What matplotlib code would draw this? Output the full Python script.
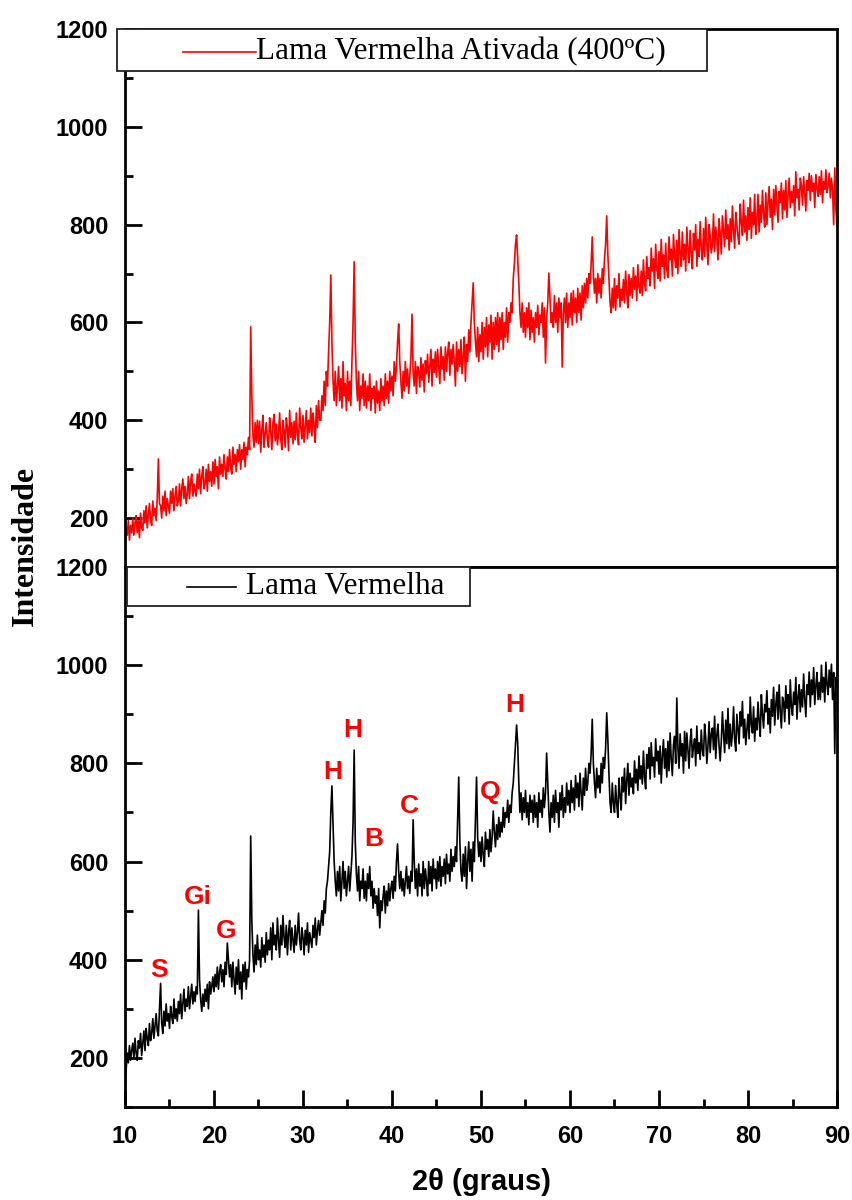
import numpy as np
import matplotlib
matplotlib.use("Agg")
import matplotlib.pyplot as plt
from matplotlib.patches import Rectangle
from matplotlib.lines import Line2D

# ---------------- data ----------------
# Each row holds the intensities read across one degree of 2θ, starting at 10°.
theta_first = 10

lama_vermelha_rows = [
    [120, 175, 210, 190, 225, 195, 215, 230],
    [200, 240, 210, 195, 235, 220, 250, 205],
    [230, 255, 215, 260, 240, 225, 270, 235],
    [250, 280, 240, 265, 290, 255, 245, 300],
    [352, 270, 250, 295, 265, 310, 275, 290],
    [260, 305, 285, 270, 320, 280, 300, 275],
    [315, 290, 330, 280, 310, 340, 295, 320],
    [305, 345, 300, 325, 350, 310, 335, 315],
    [345, 330, 501, 360, 320, 295, 330, 305],
    [340, 315, 350, 300, 355, 330, 345, 365],
    [335, 370, 345, 385, 340, 375, 390, 355],
    [380, 345, 395, 370, 434, 400, 365, 390],
    [345, 395, 360, 330, 385, 350, 400, 340],
    [375, 320, 390, 355, 395, 340, 380, 365],
    [400, 652, 480, 410, 375, 430, 390, 450],
    [400, 420, 385, 445, 405, 430, 395, 455],
    [410, 440, 420, 465, 400, 475, 430, 450],
    [420, 485, 440, 405, 470, 430, 490, 445],
    [425, 470, 410, 455, 480, 420, 465, 440],
    [415, 470, 430, 455, 495, 440, 420, 465],
    [445, 410, 460, 430, 475, 415, 455, 440],
    [425, 470, 445, 485, 430, 460, 480, 450],
    [475, 500, 470, 520, 495, 545, 560, 590],
    [620, 700, 754, 680, 600, 560, 530, 580],
    [540, 590, 520, 560, 600, 545, 580, 530],
    [560, 590, 540, 575, 610, 680, 827, 640],
    [575, 540, 590, 520, 560, 545, 585, 525],
    [560, 520, 575, 545, 590, 530, 560, 505],
    [545, 515, 530, 490, 545, 465, 520, 500],
    [530, 550, 495, 540, 510, 555, 520, 545],
    [560, 525, 570, 540, 600, 636, 580, 545],
    [580, 540, 565, 530, 560, 590, 545, 570],
    [535, 580, 560, 685, 600, 545, 585, 530],
    [595, 550, 575, 530, 600, 545, 585, 560],
    [530, 600, 555, 590, 540, 605, 565, 585],
    [545, 600, 560, 610, 550, 590, 570, 605],
    [555, 615, 575, 595, 560, 625, 580, 610],
    [590, 630, 600, 690, 772, 640, 580, 560],
    [615, 570, 630, 545, 600, 640, 580, 625],
    [560, 640, 600, 690, 772, 650, 610, 640],
    [600, 650, 615, 590, 660, 625, 645, 610],
    [665, 620, 650, 703, 660, 630, 675, 645],
    [690, 650, 680, 660, 710, 670, 700, 690],
    [725, 680, 715, 700, 740, 760, 800, 840],
    [878, 840, 760, 700, 740, 685, 730, 700],
    [745, 690, 720, 675, 735, 700, 725, 680],
    [735, 690, 720, 670, 740, 700, 725, 690],
    [750, 710, 740, 821, 760, 700, 660, 720],
    [690, 735, 680, 745, 700, 720, 670, 740],
    [705, 755, 690, 730, 700, 760, 715, 745],
    [700, 765, 720, 750, 705, 775, 730, 760],
    [712, 780, 740, 705, 770, 735, 790, 745],
    [760, 800, 780, 820, 890, 800, 760, 730],
    [790, 750, 775, 740, 800, 760, 812, 790],
    [830, 903, 850, 780, 720, 700, 760, 720],
    [700, 755, 718, 690, 770, 735, 705, 772],
    [742, 790, 718, 765, 800, 735, 780, 752],
    [770, 738, 805, 760, 788, 745, 815, 768],
    [795, 758, 825, 772, 748, 818, 790, 832],
    [768, 842, 795, 812, 772, 850, 805, 825],
    [778, 835, 760, 815, 848, 790, 830, 772],
    [845, 785, 862, 808, 775, 838, 855, 800],
    [933, 830, 790, 860, 815, 840, 780, 865],
    [805, 862, 828, 790, 845, 870, 812, 835],
    [850, 795, 876, 820, 842, 808, 868, 826],
    [815, 880, 852, 800, 835, 885, 822, 860],
    [872, 828, 896, 810, 858, 880, 835, 805],
    [845, 905, 860, 822, 888, 840, 912, 830],
    [880, 835, 860, 915, 848, 825, 900, 870],
    [840, 905, 876, 926, 852, 890, 838, 870],
    [900, 850, 935, 880, 862, 915, 845, 892],
    [868, 925, 885, 855, 940, 900, 872, 920],
    [905, 948, 880, 912, 862, 930, 896, 955],
    [878, 920, 945, 890, 960, 905, 872, 935],
    [925, 885, 958, 912, 940, 880, 970, 915],
    [898, 945, 920, 975, 890, 935, 960, 905],
    [950, 915, 982, 930, 895, 960, 940, 986],
    [915, 970, 940, 995, 920, 958, 985, 930],
    [965, 930, 1000, 945, 975, 925, 1006, 960],
    [940, 990, 955, 1002, 930, 985, 820, 975],
]
lama_vermelha_end = 960   # value at 90°

lama_ativada_rows = [
    [140, 180, 165, 195, 155, 185, 170, 200],
    [165, 190, 205, 170, 195, 160, 210, 180],
    [175, 215, 190, 225, 180, 205, 230, 195],
    [185, 235, 205, 220, 195, 240, 321, 230],
    [225, 200, 245, 215, 255, 205, 240, 225],
    [210, 255, 230, 260, 215, 245, 265, 225],
    [235, 270, 225, 260, 280, 240, 265, 230],
    [250, 285, 240, 275, 290, 245, 270, 255],
    [245, 290, 260, 300, 250, 285, 305, 260],
    [270, 300, 255, 310, 275, 295, 265, 315],
    [270, 320, 285, 305, 260, 325, 290, 310],
    [285, 330, 300, 280, 325, 295, 340, 305],
    [290, 345, 310, 330, 295, 340, 315, 350],
    [300, 340, 320, 355, 305, 345, 330, 365],
    [340, 591, 450, 370, 345, 395, 355, 400],
    [352, 398, 335, 380, 410, 345, 372, 395],
    [360, 345, 405, 378, 340, 395, 412, 358],
    [392, 350, 372, 415, 362, 340, 400, 378],
    [345, 405, 385, 338, 420, 365, 395, 352],
    [398, 360, 415, 372, 350, 425, 385, 362],
    [410, 355, 388, 420, 362, 400, 375, 425],
    [368, 415, 392, 355, 430, 385, 440, 400],
    [400, 450, 420, 480, 430, 500, 470, 540],
    [600, 697, 560, 480, 440, 500, 430, 470],
    [510, 440, 485, 425, 520, 450, 475, 420],
    [500, 440, 480, 430, 520, 600, 724, 560],
    [480, 440, 500, 420, 470, 445, 495, 430],
    [480, 425, 470, 440, 495, 420, 465, 445],
    [470, 415, 480, 435, 460, 420, 485, 440],
    [470, 430, 495, 445, 480, 435, 500, 460],
    [490, 450, 520, 480, 510, 560, 597, 520],
    [480, 445, 500, 460, 520, 470, 505, 455],
    [490, 530, 617, 500, 470, 520, 455, 510],
    [500, 468, 528, 482, 515, 458, 522, 495],
    [535, 478, 510, 545, 470, 525, 498, 540],
    [488, 545, 510, 475, 550, 505, 530, 482],
    [550, 500, 538, 560, 492, 545, 515, 555],
    [520, 470, 560, 500, 545, 510, 565, 495],
    [530, 570, 480, 555, 520, 585, 540, 600],
    [640, 681, 600, 560, 530, 590, 520, 575],
    [540, 600, 525, 590, 550, 610, 530, 595],
    [560, 615, 525, 600, 545, 610, 555, 620],
    [540, 610, 565, 620, 545, 600, 570, 630],
    [560, 620, 600, 640, 620, 690, 720, 760],
    [779, 730, 680, 620, 590, 640, 580, 620],
    [570, 630, 590, 640, 565, 625, 580, 610],
    [560, 620, 590, 635, 575, 615, 600, 640],
    [570, 630, 517, 610, 640, 701, 650, 600],
    [620, 590, 655, 600, 640, 580, 650, 610],
    [640, 509, 620, 650, 600, 660, 590, 640],
    [610, 660, 595, 665, 620, 650, 600, 670],
    [620, 660, 605, 675, 630, 680, 640, 690],
    [650, 700, 680, 720, 775, 700, 660, 690],
    [640, 700, 660, 690, 650, 710, 680, 730],
    [760, 818, 740, 690, 640, 620, 670, 630],
    [690, 625, 675, 650, 700, 632, 668, 645],
    [688, 640, 705, 662, 630, 698, 655, 690],
    [650, 712, 668, 695, 645, 718, 672, 660],
    [705, 655, 728, 680, 665, 735, 690, 712],
    [675, 752, 705, 730, 670, 760, 712, 690],
    [745, 685, 770, 715, 738, 690, 762, 708],
    [692, 775, 728, 750, 695, 780, 735, 712],
    [768, 700, 790, 742, 715, 785, 728, 760],
    [705, 795, 750, 722, 788, 740, 710, 782],
    [748, 800, 715, 770, 735, 806, 752, 728],
    [792, 735, 815, 760, 718, 800, 775, 742],
    [760, 822, 745, 795, 770, 728, 812, 782],
    [740, 818, 785, 755, 830, 772, 800, 748],
    [812, 765, 838, 790, 752, 825, 798, 775],
    [760, 842, 805, 778, 850, 785, 818, 768],
    [835, 790, 855, 772, 825, 800, 862, 780],
    [812, 862, 785, 840, 805, 870, 822, 795],
    [865, 800, 845, 878, 815, 852, 790, 872],
    [820, 880, 838, 805, 868, 845, 885, 812],
    [870, 830, 890, 815, 860, 895, 835, 868],
    [845, 880, 818, 908, 855, 872, 830, 895],
    [880, 840, 898, 862, 828, 890, 870, 905],
    [850, 900, 868, 885, 835, 902, 875, 858],
    [898, 862, 910, 845, 888, 872, 912, 866],
    [880, 905, 855, 895, 870, 800, 916, 830],
]
lama_ativada_end = 800    # value at 90°

peak_labels = ["S", "Gi", "G", "H", "H", "B", "C", "Q", "H"]
peak_x = [13.8, 18.2, 21.4, 33.3, 35.6, 38.0, 42.0, 51.0, 53.8]
peak_y = [380, 528, 458, 782, 868, 645, 713, 742, 919]

x_ticks = [10, 20, 30, 40, 50, 60, 70, 80, 90]
y_ticks = [200, 400, 600, 800, 1000, 1200]

legend_top = "Lama Vermelha Ativada (400ºC)"
legend_bottom = "Lama Vermelha"


def series(rows, end_value):
    xs, ys = [], []
    for i, row in enumerate(rows):
        n = len(row)
        for k, v in enumerate(row):
            xs.append(theta_first + i + k / n)
            ys.append(v)
    xs.append(theta_first + len(rows))
    ys.append(end_value)
    return np.array(xs), np.array(ys)


sans = "Liberation Sans"
serif = "Liberation Serif"

x_bot, y_bot = series(lama_vermelha_rows, lama_vermelha_end)
x_top, y_top = series(lama_ativada_rows, lama_ativada_end)

fig = plt.figure(figsize=(8.52, 12.0), dpi=100)
ax_top = fig.add_axes([0.1467, 0.5275, 0.8357, 0.4483])
ax_bot = fig.add_axes([0.1467, 0.0775, 0.8357, 0.4500])

ax_top.plot(x_top, y_top, color="#ff0000", lw=1.2)
ax_bot.plot(x_bot, y_bot, color="black", lw=1.2)

for ax in (ax_top, ax_bot):
    ax.set_xlim(10, 90)
    ax.set_ylim(100, 1200)
    ax.set_xticks(x_ticks)
    ax.set_xticks(np.array(x_ticks[:-1]) + 5, minor=True)
    ax.set_yticks(y_ticks)
    ax.set_yticks(np.array(y_ticks) - 100, minor=True)
    for s in ax.spines.values():
        s.set_linewidth(2.0)
    ax.tick_params(which="major", direction="in", length=12, width=2)
    ax.tick_params(which="minor", direction="in", length=6, width=2)
    ax.tick_params(axis="y", which="major", pad=12)
    ax.tick_params(axis="x", which="both", top=False)
    for lab in ax.get_yticklabels() + ax.get_xticklabels():
        lab.set_fontfamily(sans)
        lab.set_fontweight("bold")
        lab.set_fontsize(17)

ax_top.tick_params(axis="x", which="both", bottom=False, labelbottom=False)
ax_bot.tick_params(axis="x", which="major", pad=13)


def legend_box(ax, x0, y0, x1, y1, lx0, lx1, ly, tx, text, color):
    ax.add_patch(Rectangle((x0, y0), x1 - x0, y1 - y0, transform=ax.transAxes,
                           facecolor="white", edgecolor="#222222", lw=1.3,
                           clip_on=False, zorder=5))
    ax.add_line(Line2D([lx0, lx1], [ly, ly], transform=ax.transAxes, color=color,
                       lw=1.2, clip_on=False, zorder=6))
    ax.text(tx, ly, text, transform=ax.transAxes, ha="left", va="center",
            fontfamily=serif, fontsize=22.5, zorder=7)


legend_box(ax_top, -0.0112, 0.922, 0.8174, 1.0, 0.081, 0.184, 0.958, 0.184,
           legend_top, "#ff0000")
legend_box(ax_bot, 0.003, 0.928, 0.485, 1.0, 0.087, 0.156, 0.963, 0.170,
           legend_bottom, "black")

for lab, px, py in zip(peak_labels, peak_x, peak_y):
    ax_bot.text(px, py, lab, color="#ff0000", fontsize=19, fontweight="bold",
                fontfamily=sans, ha="center", va="center")

fig.text(481 / 852, 1 - 1182 / 1200, "2θ (graus)", ha="center", va="center",
         fontsize=21, fontweight="bold", fontfamily=sans)
fig.text(25 / 852, 1 - 546 / 1200, "Intensidade", ha="center", va="center",
         rotation=90, fontsize=23, fontweight="bold", fontfamily=serif)

fig.savefig("out.png", dpi=100)
